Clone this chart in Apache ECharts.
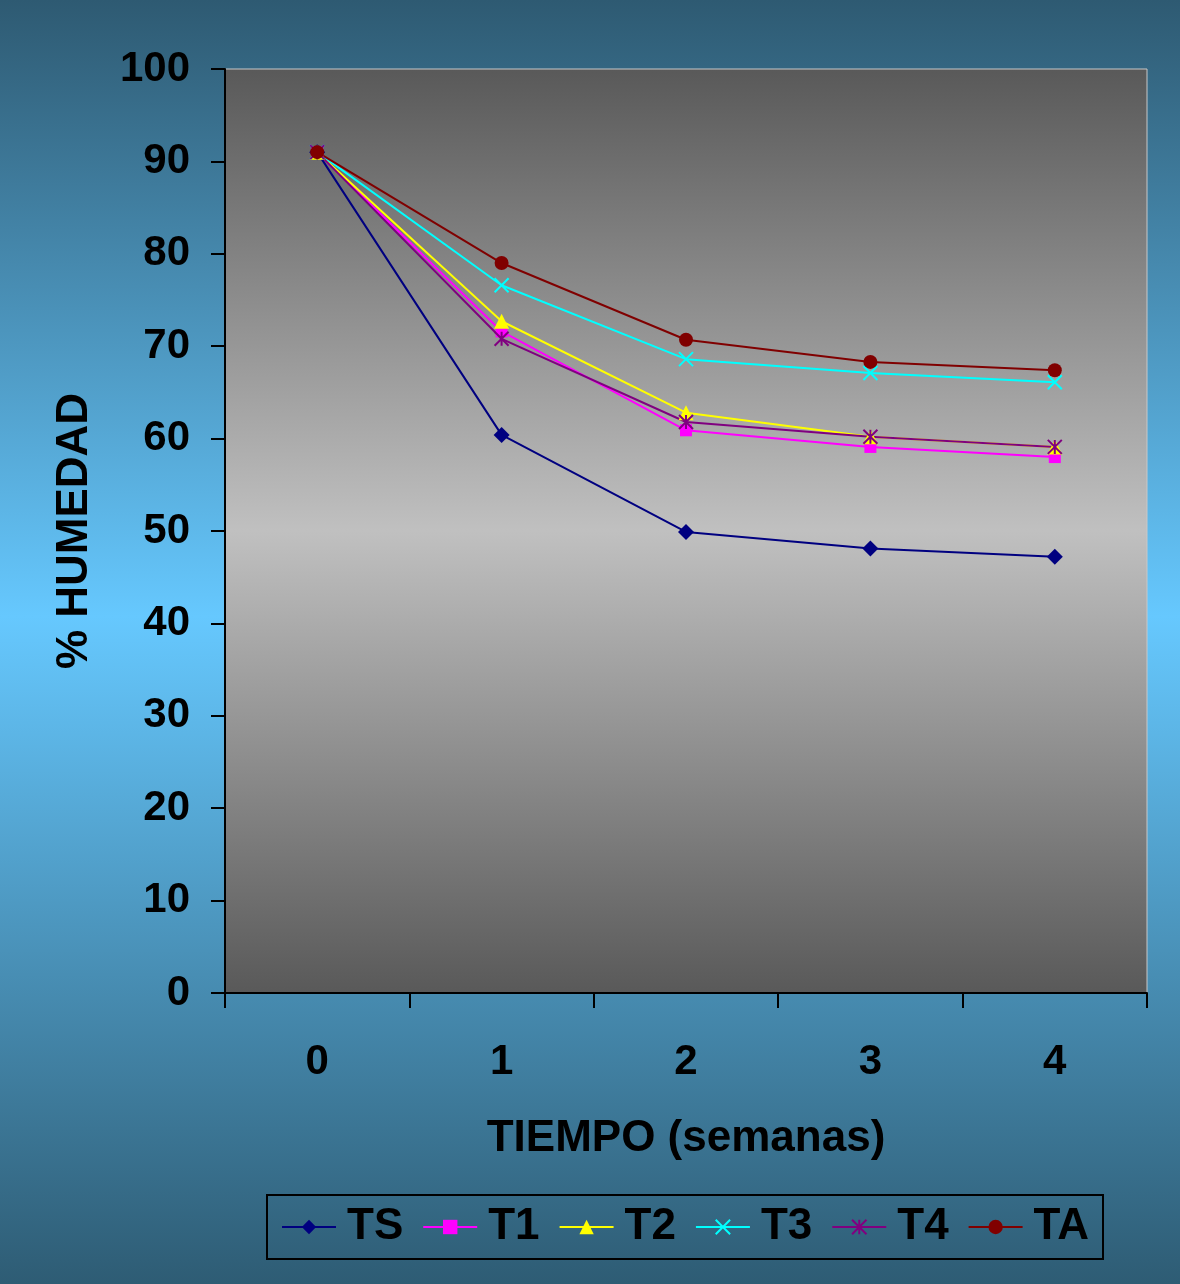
<!DOCTYPE html>
<html>
<head>
<meta charset="utf-8">
<script src="https://cdn.jsdelivr.net/npm/echarts@6/dist/echarts.min.js"></script>
<style>
    html, body { margin: 0; padding: 0; }
    #chart { width: 1180px; height: 1284px; }
</style>
</head>
<body>
<div id="chart"></div>
<script>
// % humedad vs tiempo
const semanas = ['0', '1', '2', '3', '4'];
const yTicks = [0, 10, 20, 30, 40, 50, 60, 70, 80, 90, 100];
const TS = [91.0, 60.4, 49.9, 48.1, 47.2];
const T1 = [91.0, 71.6, 60.9, 59.1, 58.0];
const T2 = [91.0, 72.7, 62.8, 60.2, 59.1];
const T3 = [91.0, 76.6, 68.6, 67.1, 66.1];
const T4 = [91.0, 70.8, 61.8, 60.2, 59.1];
const TA = [91.0, 79.0, 70.7, 68.3, 67.4];

const font = '"Liberation Sans", Arial, sans-serif';
const echart = echarts.init(document.getElementById('chart'));

function serie(name, data, color, symbol, size, stroke) {
    return {
        type: 'line',
        name: name,
        data: data,
        symbol: symbol,
        symbolSize: size,
        showSymbol: true,
        lineStyle: { color: color, width: 2 },
        itemStyle: stroke
            ? { color: color, borderColor: color, borderWidth: 2 }
            : { color: color, borderWidth: 0 },
        emphasis: { disabled: true },
        animation: false
    };
}

const option = {
    backgroundColor: {
        type: 'linear', x: 0, y: 0, x2: 0, y2: 1,
        colorStops: [
            { offset: 0, color: '#2e5a72' },
            { offset: 0.48, color: '#66c8fe' },
            { offset: 1, color: '#2e5c74' }
        ]
    },
    textStyle: { fontFamily: font },
    legend: {
        left: 267,
        top: 1195,
        padding: [10, 14],
        itemGap: 19,
        itemWidth: 54,
        itemHeight: 18,
        borderColor: '#000',
        borderWidth: 2,
        textStyle: {
            color: '#000', fontSize: 44, fontWeight: 'bold', fontFamily: font,
            padding: [0, 0, 0, 6]
        },
        data: ['TS', 'T1', 'T2', 'T3', 'T4', 'TA']
    },
    grid: {
        show: true,
        left: 225,
        right: 33,
        top: 69,
        bottom: 291,
        containLabel: false,
        borderColor: '#c8c8c8',
        borderWidth: 1,
        backgroundColor: {
            type: 'linear', x: 0, y: 0, x2: 0, y2: 1,
            colorStops: [
                { offset: 0, color: '#595959' },
                { offset: 0.5, color: '#c0c0c0' },
                { offset: 1, color: '#595959' }
            ]
        }
    },
    xAxis: {
        type: 'category',
        data: semanas,
        boundaryGap: true,
        name: 'TIEMPO (semanas)',
        nameLocation: 'middle',
        nameGap: 124,
        nameTextStyle: { color: '#000', fontSize: 44, fontWeight: 'bold', fontFamily: font },
        axisLine: { lineStyle: { color: '#000', width: 2 } },
        axisTick: { show: true, length: 15, inside: false, lineStyle: { color: '#000', width: 2 } },
        axisLabel: { color: '#000', fontSize: 42, fontWeight: 'bold', margin: 48, fontFamily: font },
        splitLine: { show: false }
    },
    yAxis: {
        type: 'value',
        min: yTicks[0],
        max: yTicks[yTicks.length - 1],
        interval: 10,
        name: '% HUMEDAD',
        nameLocation: 'middle',
        nameGap: 128,
        nameRotate: 90,
        nameTextStyle: { color: '#000', fontSize: 44, fontWeight: 'bold', fontFamily: font },
        axisLine: { show: true, lineStyle: { color: '#000', width: 2 } },
        axisTick: { show: true, length: 14, inside: false, lineStyle: { color: '#000', width: 2 } },
        axisLabel: { color: '#000', fontSize: 42, fontWeight: 'bold', margin: 35, fontFamily: font },
        splitLine: { show: false }
    },
    series: [
        serie('TS', TS, '#000080', 'diamond', 16, false),
        serie('T1', T1, '#ff00ff', 'rect', 12, false),
        serie('T2', T2, '#ffff00', 'triangle', 15, false),
        serie('T3', T3, '#00ffff', 'path://M0,0L10,10M10,0L0,10', 14, true),
        serie('T4', T4, '#800080', 'path://M0,0L10,10M10,0L0,10M5,0L5,10', 14, true),
        serie('TA', TA, '#800000', 'circle', 14, false)
    ],
    animation: false
};
echart.setOption(option);
</script>
</body>
</html>
